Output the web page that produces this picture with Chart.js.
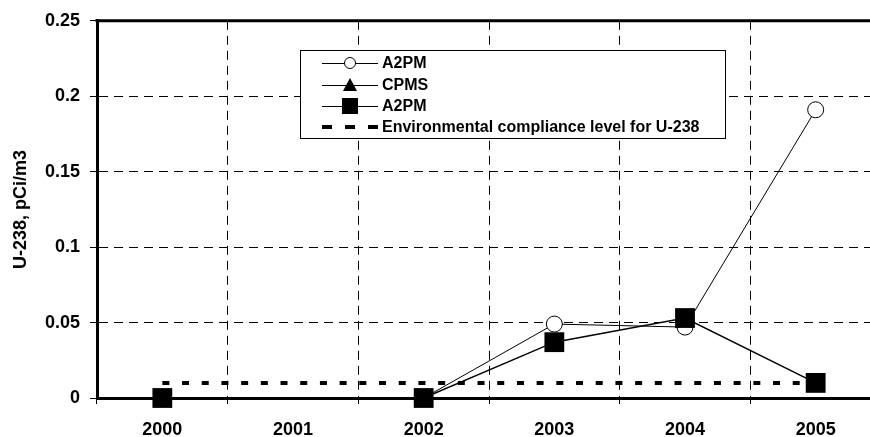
<!DOCTYPE html>
<html>
<head>
<meta charset="utf-8">
<script src="https://cdn.jsdelivr.net/npm/chart.js@4/dist/chart.umd.min.js"></script>
<style>
  html, body { margin: 0; padding: 0; background: #fff; overflow: hidden; }
</style>
</head>
<body>
<canvas id="myChart" width="900" height="437"></canvas>
<script>
const years = ['2000', '2001', '2002', '2003', '2004', '2005'];
const a2pmOpen = [null, null, 0, 0.049, 0.047, 0.191];
const cpms = [0, null, 0, null, null, null];
const a2pmSquare = [0, null, 0, 0.037, 0.053, 0.01];
const complianceLevel = [0.01, 0.01, 0.01, 0.01, 0.01, 0.01];
const yTicks = [0, 0.05, 0.1, 0.15, 0.2, 0.25];

const FONT = 'Liberation Sans, Arial, sans-serif';

// legend box drawn by hand, Excel style (line through the marker)
const legendPlugin = {
  id: 'boxLegend',
  afterDraw(chart) {
    const ctx = chart.ctx;
    const box = { x: 300, y: 50, w: 425, h: 88 };
    ctx.save();
    ctx.fillStyle = '#fff';
    ctx.fillRect(box.x, box.y, box.w, box.h);
    ctx.strokeStyle = '#000';
    ctx.lineWidth = 1;
    ctx.strokeRect(box.x + 0.5, box.y + 0.5, box.w, box.h);

    const rows = [63, 85, 106, 127];
    const x0 = 322, x1 = 378, mx = 350;
    chart.data.datasets.forEach((ds, i) => {
      const y = rows[i];
      ctx.strokeStyle = '#000';
      ctx.fillStyle = '#000';
      if (ds.legendDash) {
        ctx.lineWidth = 4;
        ctx.setLineDash([10, 13]);
        ctx.beginPath();
        ctx.moveTo(x0, y);
        ctx.lineTo(x1, y);
        ctx.stroke();
        ctx.setLineDash([]);
      } else {
        ctx.lineWidth = 1;
        ctx.beginPath();
        ctx.moveTo(x0, y + 0.5);
        ctx.lineTo(x1, y + 0.5);
        ctx.stroke();
        if (ds.pointStyle === 'circle') {
          ctx.fillStyle = '#fff';
          ctx.beginPath();
          ctx.arc(mx, y, 5.5, 0, Math.PI * 2);
          ctx.fill();
          ctx.stroke();
        } else if (ds.pointStyle === 'triangle') {
          ctx.beginPath();
          ctx.moveTo(mx, y - 7);
          ctx.lineTo(mx + 7, y + 6);
          ctx.lineTo(mx - 7, y + 6);
          ctx.closePath();
          ctx.fill();
        } else {
          ctx.fillRect(mx - 8, y - 8, 16, 16);
        }
      }
      ctx.fillStyle = '#000';
      ctx.font = 'bold 16px ' + FONT;
      ctx.textBaseline = 'middle';
      ctx.textAlign = 'left';
      ctx.fillText(ds.label, 382, y + 1);
    });
    ctx.restore();
  }
};

const topBorder = {
  id: 'topBorder',
  afterDatasetsDraw(chart) {
    const a = chart.chartArea;
    const ctx = chart.ctx;
    ctx.save();
    ctx.strokeStyle = '#000';
    ctx.lineWidth = 3;
    ctx.beginPath();
    ctx.moveTo(a.left - 1.5, a.top);
    ctx.lineTo(a.right, a.top);
    ctx.stroke();
    ctx.restore();
  }
};

const ctx = document.getElementById('myChart').getContext('2d');
const myChart = new Chart(ctx, {
  type: 'line',
  data: {
    labels: years,
    datasets: [
      {
        label: 'A2PM',
        data: a2pmOpen,
        borderColor: '#000',
        borderWidth: 1,
        pointStyle: 'circle',
        pointRadius: 8,
        pointBackgroundColor: '#fff',
        pointBorderColor: '#000',
        pointBorderWidth: 1,
        spanGaps: true,
        clip: false,
        order: 2
      },
      {
        label: 'CPMS',
        data: cpms,
        borderColor: '#000',
        borderWidth: 1,
        pointStyle: 'triangle',
        pointRadius: 9,
        pointBackgroundColor: '#000',
        pointBorderColor: '#000',
        spanGaps: true,
        clip: false,
        order: 1
      },
      {
        label: 'A2PM',
        data: a2pmSquare,
        borderColor: '#000',
        borderWidth: 1.5,
        pointStyle: 'rect',
        pointRadius: 14,
        pointBackgroundColor: '#000',
        pointBorderColor: '#000',
        pointBorderWidth: 0,
        spanGaps: true,
        clip: false,
        order: 0
      },
      {
        label: 'Environmental compliance level for U-238',
        data: complianceLevel,
        borderColor: '#000',
        borderWidth: 4,
        borderDash: [7, 12.7],
        pointRadius: 0,
        legendDash: true,
        clip: false,
        order: 3
      }
    ]
  },
  options: {
    responsive: false,
    animation: false,
    layout: { padding: { top: 18, right: 19, left: 0, bottom: 0 } },
    plugins: {
      legend: { display: false },
      tooltip: { enabled: false }
    },
    elements: { line: { tension: 0 } },
    scales: {
      x: {
        type: 'category',
        offset: true,
        grid: {
          offset: true,
          color: '#000',
          lineWidth: 1,
          tickLength: 6,
          tickColor: '#000'
        },
        border: { display: true, color: '#000', width: 3, dash: [9, 6] },
        ticks: {
          color: '#000',
          font: { family: FONT, size: 18, weight: 'bold' },
          padding: 15,
          maxRotation: 0
        },
        afterFit(scale) { scale.height = 39; }
      },
      y: {
        min: 0,
        max: 0.25,
        afterBuildTicks(scale) { scale.ticks = yTicks.map(v => ({ value: v })); },
        grid: {
          color: '#000',
          lineWidth: 1,
          tickLength: 7,
          tickColor: '#000'
        },
        border: { display: true, color: '#000', width: 3, dash: [9, 6] },
        ticks: {
          color: '#000',
          font: { family: FONT, size: 18, weight: 'bold' },
          padding: 10,
          callback: v => String(Number(v.toFixed(2)))
        },
        title: {
          display: true,
          text: 'U-238, pCi/m3',
          color: '#000',
          font: { family: FONT, size: 18, weight: 'bold' },
          padding: { top: 10, bottom: 0 }
        },
        afterFit(scale) { scale.width = 97; }
      }
    }
  },
  plugins: [topBorder, legendPlugin]
});
</script>
</body>
</html>
